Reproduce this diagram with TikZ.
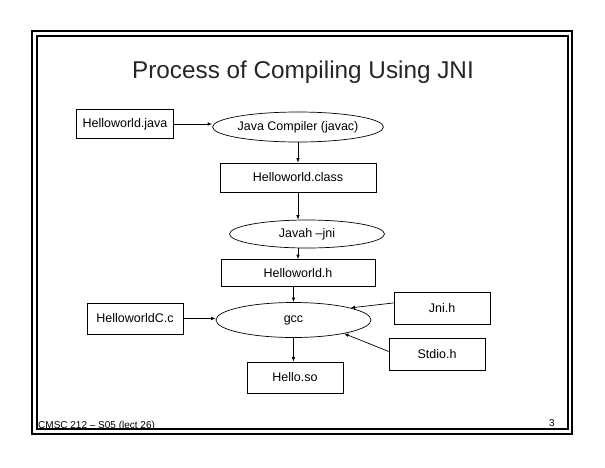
\documentclass[tikz,border=0pt]{standalone}
\usepackage{fontspec}
\setmainfont{Liberation Sans}
\usetikzlibrary{shapes.geometric,arrows.meta}
\begin{document}
\begin{tikzpicture}[x=1pt,y=-1pt,
  box/.style={draw,line width=0.7pt,inner sep=0pt,font=\fontsize{12.5}{14}\selectfont},
  oval/.style={draw,ellipse,line width=0.7pt,inner sep=0pt,font=\fontsize{12.5}{14}\selectfont},
  arr/.style={-{Latex[length=4.5pt,width=3.5pt]},line width=0.7pt},
  frame/.style={line width=1.1pt}]
\useasboundingbox (0,0) rectangle (605,467);
\draw[frame] (32,31) rectangle (572,434);
\draw[frame] (37,36) rectangle (568,429);
\node[font=\fontsize{24.3}{28}\selectfont,text=black!85] (title) at (303,72) {Process of Compiling Using JNI};
\node[box,minimum width=97pt,minimum height=29pt] (hj) at (125,124) {Helloworld.java};
\node[oval,minimum width=148pt,minimum height=30pt] (jc) at (298,127) {Java Compiler (javac)};
\node[box,minimum width=156pt,minimum height=29pt] (cls) at (298,177.5) {Helloworld.class};
\node[oval,minimum width=155pt,minimum height=28pt] (jh) at (307,234) {Javah –jni};
\node[box,minimum width=154pt,minimum height=27pt] (hh) at (298,273) {Helloworld.h};
\node[oval,minimum width=155pt,minimum height=35pt] (gcc) at (293.5,320) {gcc};
\node[box,minimum width=96pt,minimum height=31pt] (cc) at (135,318.5) {HelloworldC.c};
\node[box,minimum width=96pt,minimum height=32pt] (jni) at (442,308) {Jni.h};
\node[box,minimum width=96pt,minimum height=32pt] (std) at (437,354) {Stdio.h};
\node[box,minimum width=96pt,minimum height=31pt] (so) at (295,377.5) {Hello.so};
\node[anchor=base west,font=\fontsize{10}{12}\selectfont,inner sep=0pt] (foot) at (38,428) {CMSC 212 – S05 (lect 26)};
\node[anchor=base,font=\fontsize{10}{12}\selectfont,inner sep=0pt] (pg) at (552,426) {3};
\draw[arr] (hj.east) -- (hj.east -| jc.west);
\draw[arr] (jc.south) -- (cls.north);
\draw[arr] (cls.south) -- (cls.south |- jh.north);
\draw[arr] (cls.south |- jh.south) -- (cls.south |- hh.north);
\draw[arr] (gcc.north |- hh.south) -- (gcc.north);
\draw[arr] (cc.east) -- (cc.east -| gcc.west);
\draw[arr] (jni.174) -- (gcc.12.5);
\draw[arr] (std.177) -- (gcc.-15);
\draw[arr] (gcc.south) -- (gcc.south |- so.north);
\end{tikzpicture}
\end{document}
